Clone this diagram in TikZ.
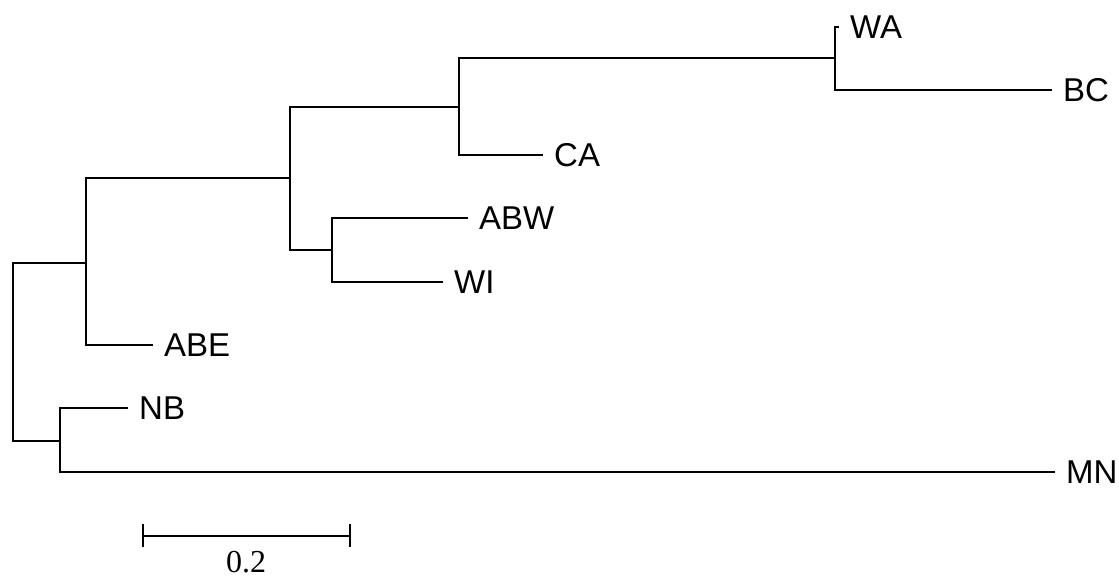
\documentclass[tikz,border=0pt]{standalone}
\usepackage{fontspec}
\setmainfont{Liberation Sans}
\newfontfamily\serifnum{Liberation Serif}
\begin{document}
\begin{tikzpicture}[x=1pt,y=-1pt,
  branch/.style={line width=2pt,line join=miter},
  leaflabel/.style={anchor=west,inner sep=0pt,font=\fontsize{33}{37}\selectfont,xshift=11pt},
  scalelabel/.style={inner sep=0pt,font=\serifnum\fontsize{32}{36}\selectfont}]
\useasboundingbox (0,0) rectangle (1119,580);
% internal nodes
\coordinate (root) at (13,352);
\coordinate (nA) at (86,263);
\coordinate (nNB) at (60,441);
\coordinate (nB) at (290,178);
\coordinate (nC) at (459,107);
\coordinate (nD) at (332,250);
\coordinate (nE) at (835,58);
% leaf tips
\coordinate (tWA) at (839,27);
\coordinate (tBC) at (1052,90);
\coordinate (tCA) at (543,155);
\coordinate (tABW) at (468,218);
\coordinate (tWI) at (443,282);
\coordinate (tABE) at (153,345);
\coordinate (tNB) at (128,408);
\coordinate (tMN) at (1055,472);
% labels
\node[leaflabel] (WA) at (tWA) {WA};
\node[leaflabel] (BC) at (tBC) {BC};
\node[leaflabel] (CA) at (tCA) {CA};
\node[leaflabel] (ABW) at (tABW) {ABW};
\node[leaflabel] (WI) at (tWI) {WI};
\node[leaflabel] (ABE) at (tABE) {ABE};
\node[leaflabel] (NB) at (tNB) {NB};
\node[leaflabel] (MN) at (tMN) {MN};
% branches
\draw[branch] (root) |- (nA);
\draw[branch] (root) |- (nNB);
\draw[branch] (nA) |- (nB);
\draw[branch] (nA) |- (tABE);
\draw[branch] (nB) |- (nC);
\draw[branch] (nB) |- (nD);
\draw[branch] (nC) |- (nE);
\draw[branch] (nC) |- (tCA);
\draw[branch] (nE) |- (tWA);
\draw[branch] (nE) |- (tBC);
\draw[branch] (nD) |- (tABW);
\draw[branch] (nD) |- (tWI);
\draw[branch] (nNB) |- (tNB);
\draw[branch] (nNB) |- (tMN);
% scale bar
\coordinate (sL) at (143,536);
\coordinate (sR) at (350,536);
\draw[branch] (sL) -- (sR);
\draw[branch] ([yshift=-11pt]sL) -- ([yshift=12pt]sL);
\draw[branch] ([yshift=-11pt]sR) -- ([yshift=12pt]sR);
\node[scalelabel] (scale) at (246,562) {0.2};
\end{tikzpicture}
\end{document}
